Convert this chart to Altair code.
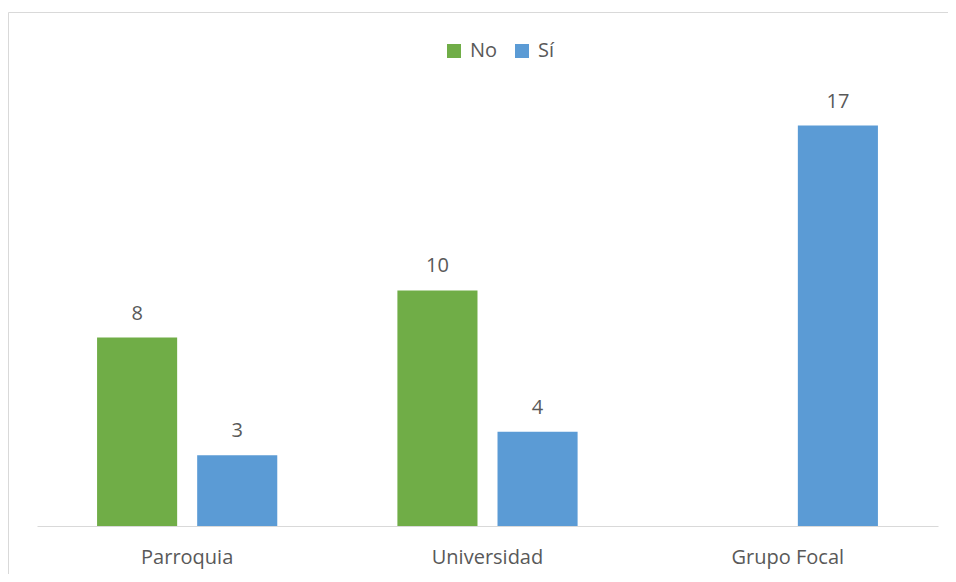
import altair as alt
import pandas as pd

categories = ["Parroquia", "Universidad", "Grupo Focal"]
series = ["No", "Sí"]
no_values = [8, 10, 0]
si_values = [3, 4, 17]
colors = ["#70AD47", "#5B9BD5"]

rows = []
for c, n, s in zip(categories, no_values, si_values):
    rows.append({"categoria": c, "respuesta": "No", "valor": n})
    rows.append({"categoria": c, "respuesta": "Sí", "valor": s})
df = pd.DataFrame(rows)

FONT = "Open Sans"
TEXT = "#595959"

x = alt.X(
    "categoria:N", sort=categories, title=None,
    scale=alt.Scale(paddingInner=0, paddingOuter=0),
    axis=alt.Axis(labelAngle=0, ticks=False, domainColor="#d9d9d9", domainWidth=1,
                  labelFontSize=20, labelColor=TEXT, labelFont=FONT, labelPadding=21, grid=False),
)
xo = alt.XOffset("respuesta:N", sort=series,
                 scale=alt.Scale(domain=series, paddingInner=0.2, paddingOuter=0.6))
y = alt.Y("valor:Q", scale=alt.Scale(domain=[0, 18], nice=False), axis=None)
color = alt.Color(
    "respuesta:N",
    scale=alt.Scale(domain=series, range=colors),
    legend=alt.Legend(orient="none", legendX=407, legendY=-61, direction="horizontal",
                      title=None, symbolType="square", symbolSize=196, symbolStrokeWidth=0,
                      labelFontSize=20, labelFont=FONT, labelColor=TEXT, labelOffset=6,
                      columnPadding=14, padding=0),
)

base = alt.Chart(df).transform_filter("datum.valor > 0")
bars = base.mark_bar().encode(x=x, xOffset=xo, y=y, color=color)
labels = base.mark_text(dy=-18, baseline="alphabetic", fontSize=20, font=FONT, color=TEXT).encode(
    x=x, xOffset=xo, y=y, text="valor:Q"
)
frame = pd.DataFrame({"a": [0]})
top_line = alt.Chart(frame).mark_rule(stroke="#d9d9d9", strokeWidth=1).encode(
    x=alt.value(-28.5), x2=alt.value(1000), y=alt.value(-89.5)
)
left_line = alt.Chart(frame).mark_rule(stroke="#d9d9d9", strokeWidth=1).encode(
    x=alt.value(-28.5), y=alt.value(-89.5), y2=alt.value(1000)
)

chart = alt.layer(top_line, left_line, bars, labels).properties(
    width=901, height=424,
    autosize=alt.AutoSizeParams(type="none"),
    padding={"left": 29, "top": 94, "right": 10, "bottom": 48},
).configure_view(stroke=None)

chart.save("out.html", embed_options={"renderer": "svg", "actions": False})
